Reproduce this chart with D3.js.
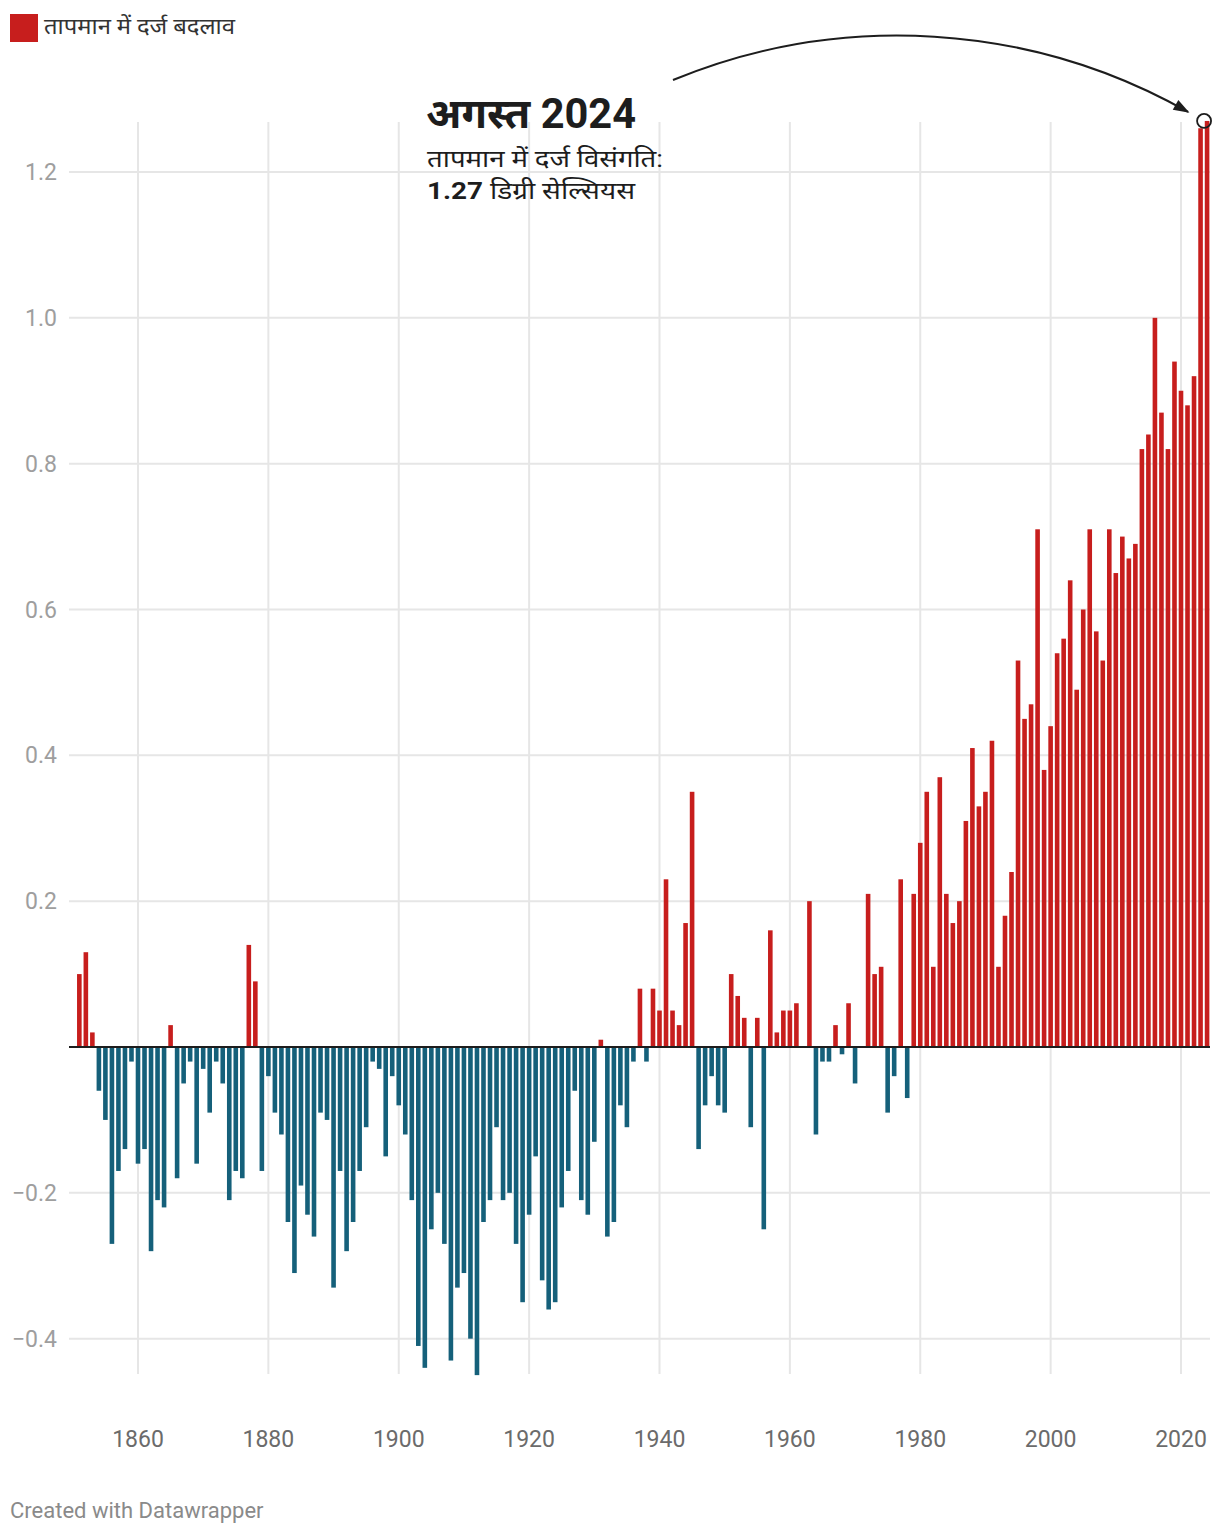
<!DOCTYPE html>
<html>
<head>
<meta charset="utf-8">
<script src="https://cdn.jsdelivr.net/npm/d3@7"></script>
<style>
  html, body { margin: 0; padding: 0; background: #fff; }
  svg { display: block; font-family: Roboto, "Noto Sans", "DejaVu Sans", sans-serif; }
</style>
</head>
<body>
<svg id="chart" width="1220" height="1536"></svg>
<script>
// ---------- DATA ----------
const startYear = 1851;
const anomalies = [
  // 1851-1860
  0.10, 0.13, 0.02, -0.06, -0.10, -0.27, -0.17, -0.14, -0.02, -0.16,
  // 1861-1870
  -0.14, -0.28, -0.21, -0.22, 0.03, -0.18, -0.05, -0.02, -0.16, -0.03,
  // 1871-1880
  -0.09, -0.02, -0.05, -0.21, -0.17, -0.18, 0.14, 0.09, -0.17, -0.04,
  // 1881-1890
  -0.09, -0.12, -0.24, -0.31, -0.19, -0.23, -0.26, -0.09, -0.10, -0.33,
  // 1891-1900
  -0.17, -0.28, -0.24, -0.17, -0.11, -0.02, -0.03, -0.15, -0.04, -0.08,
  // 1901-1910
  -0.12, -0.21, -0.41, -0.44, -0.25, -0.20, -0.27, -0.43, -0.33, -0.31,
  // 1911-1920
  -0.40, -0.45, -0.24, -0.21, -0.11, -0.21, -0.20, -0.27, -0.35, -0.23,
  // 1921-1930
  -0.15, -0.32, -0.36, -0.35, -0.22, -0.17, -0.06, -0.21, -0.23, -0.13,
  // 1931-1940
  0.01, -0.26, -0.24, -0.08, -0.11, -0.02, 0.08, -0.02, 0.08, 0.05,
  // 1941-1950
  0.23, 0.05, 0.03, 0.17, 0.35, -0.14, -0.08, -0.04, -0.08, -0.09,
  // 1951-1960
  0.10, 0.07, 0.04, -0.11, 0.04, -0.25, 0.16, 0.02, 0.05, 0.05,
  // 1961-1970
  0.06, 0.00, 0.20, -0.12, -0.02, -0.02, 0.03, -0.01, 0.06, -0.05,
  // 1971-1980
  0.00, 0.21, 0.10, 0.11, -0.09, -0.04, 0.23, -0.07, 0.21, 0.28,
  // 1981-1990
  0.35, 0.11, 0.37, 0.21, 0.17, 0.20, 0.31, 0.41, 0.33, 0.35,
  // 1991-2000
  0.42, 0.11, 0.18, 0.24, 0.53, 0.45, 0.47, 0.71, 0.38, 0.44,
  // 2001-2010
  0.54, 0.56, 0.64, 0.49, 0.60, 0.71, 0.57, 0.53, 0.71, 0.65,
  // 2011-2020
  0.70, 0.67, 0.69, 0.82, 0.84, 1.00, 0.87, 0.82, 0.94, 0.90,
  // 2021-2024
  0.88, 0.92, 1.26, 1.27
];
const years = anomalies.map((_, i) => startYear + i);
const xTicks = [1860, 1880, 1900, 1920, 1940, 1960, 1980, 2000, 2020];
const yTicks = [-0.4, -0.2, 0, 0.2, 0.4, 0.6, 0.8, 1.0, 1.2];
const legendLabel = "तापमान में दर्ज बदलाव";
const annoTitle = "अगस्त 2024";
const annoLine1 = "तापमान में दर्ज विसंगति:";
const annoValue = "1.27";
const annoUnit = " डिग्री सेल्सियस";
const highlightYear = 2024;
const highlightValue = 1.27;
const credit = "Created with Datawrapper";

// ---------- LAYOUT ----------
const svg = d3.select("#chart");
const plotLeft = 69, plotRight = 1210, plotTop = 122, plotBottom = 1374;
const RED = "#c71e1d", BLUE = "#15607a";

const x = d3.scaleLinear().domain([1860, 2020]).range([138, 1181]);
const y = d3.scaleLinear().domain([0, 1.2]).range([1047, 172]);
const barW = 4.6;

// grid: vertical
svg.append("g").selectAll("line").data(xTicks).join("line")
  .attr("x1", d => x(d)).attr("x2", d => x(d))
  .attr("y1", plotTop).attr("y2", plotBottom)
  .attr("stroke", "#e6e6e6").attr("stroke-width", 2);

// grid: horizontal
svg.append("g").selectAll("line").data(yTicks.filter(d => d !== 0)).join("line")
  .attr("x1", plotLeft).attr("x2", plotRight)
  .attr("y1", d => y(d)).attr("y2", d => y(d))
  .attr("stroke", "#e6e6e6").attr("stroke-width", 2);

// y labels
const fmtY = v => (v < 0 ? "\u2212" : "") + Math.abs(v).toFixed(1);
svg.append("g").selectAll("text").data(yTicks.filter(d => d !== 0)).join("text")
  .attr("x", 57).attr("y", d => y(d)).attr("dy", "0.35em")
  .attr("text-anchor", "end")
  .attr("font-size", 23).attr("fill", "#9e9e9e")
  .text(fmtY);

// x labels
svg.append("g").selectAll("text").data(xTicks).join("text")
  .attr("x", d => x(d)).attr("y", 1447)
  .attr("text-anchor", "middle")
  .attr("font-size", 23).attr("fill", "#6b6b6b")
  .text(d => d);

// bars
svg.append("g").selectAll("rect").data(years).join("rect")
  .attr("x", (d) => x(d) - barW / 2)
  .attr("width", barW)
  .attr("y", (d, i) => anomalies[i] >= 0 ? y(anomalies[i]) : y(0))
  .attr("height", (d, i) => Math.abs(y(anomalies[i]) - y(0)))
  .attr("fill", (d, i) => anomalies[i] >= 0 ? RED : BLUE);

// zero line
svg.append("line")
  .attr("x1", plotLeft).attr("x2", plotRight)
  .attr("y1", y(0)).attr("y2", y(0))
  .attr("stroke", "#1d1d1d").attr("stroke-width", 2);

// legend
svg.append("rect").attr("x", 10).attr("y", 14).attr("width", 28).attr("height", 28).attr("fill", RED);
svg.append("text").attr("x", 44).attr("y", 34)
  .attr("font-size", 22).attr("fill", "#333")
  .attr("textLength", 191).attr("lengthAdjust", "spacingAndGlyphs")
  .text(legendLabel);

// annotation text
svg.append("text").attr("x", 426).attr("y", 128)
  .attr("font-size", 42).attr("font-weight", 700).attr("fill", "#1d1d1d")
  .attr("textLength", 210).attr("lengthAdjust", "spacingAndGlyphs")
  .text(annoTitle);
svg.append("text").attr("x", 427).attr("y", 167)
  .attr("font-size", 24).attr("fill", "#1d1d1d")
  .attr("textLength", 236).attr("lengthAdjust", "spacingAndGlyphs")
  .text(annoLine1);
const t3 = svg.append("text").attr("x", 427).attr("y", 199)
  .attr("font-size", 24).attr("fill", "#1d1d1d")
  .attr("textLength", 208).attr("lengthAdjust", "spacingAndGlyphs");
t3.append("tspan").attr("font-weight", 700).text(annoValue);
t3.append("tspan").text(annoUnit);

// arrow
const defs = svg.append("defs");
defs.append("marker").attr("id", "ah")
  .attr("viewBox", "0 0 10 10").attr("refX", 9).attr("refY", 5)
  .attr("markerWidth", 22).attr("markerHeight", 16)
  .attr("markerUnits", "userSpaceOnUse")
  .attr("orient", "auto")
  .append("path").attr("d", "M0,1.5 L10,5 L0,8.5 Z").attr("fill", "#1d1d1d");

const cx = x(highlightYear) - 3, cy = y(highlightValue);
const sx = 673, sy = 80, ex = cx - 16, ey = cy - 9;
svg.append("path")
  .attr("d", `M${sx},${sy} A590,590 0 0,1 ${ex},${ey}`)
  .attr("fill", "none").attr("stroke", "#1d1d1d").attr("stroke-width", 2)
  .attr("marker-end", "url(#ah)");

svg.append("circle").attr("cx", cx).attr("cy", cy).attr("r", 7)
  .attr("fill", "none").attr("stroke", "#1d1d1d").attr("stroke-width", 1.8);

// credit
svg.append("text").attr("x", 10).attr("y", 1518)
  .attr("font-size", 22).attr("fill", "#8a8a8a").text(credit);
</script>
</body>
</html>
